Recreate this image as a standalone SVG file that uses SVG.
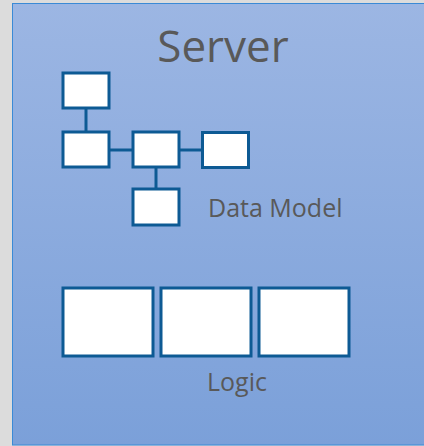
<svg xmlns="http://www.w3.org/2000/svg" width="424" height="446" viewBox="0 0 424 446">
<defs>
<linearGradient id="bg" x1="0" y1="0" x2="0" y2="1">
<stop offset="0" stop-color="#9cb6e3"/>
<stop offset="1" stop-color="#7ba0d9"/>
</linearGradient>
</defs>
<style>
.box{fill:#ffffff;stroke:#0d5a94;stroke-width:3}
.ln{stroke:#0d5a94;stroke-width:3;fill:none}
.t{font-family:"Open Sans",sans-serif;fill:#595959}
</style>
<rect x="0" y="0" width="424" height="446" fill="#dcdcdc"/>
<g id="server">
<rect x="12.5" y="3.5" width="420" height="441.5" fill="url(#bg)" stroke="#3a8ad6" stroke-width="1"/>
<text class="t" x="223" y="62" font-size="44" text-anchor="middle">Server</text>
</g>
<g id="connectors">
<line class="ln" x1="86" y1="108" x2="86" y2="132"/>
<line class="ln" x1="110" y1="150" x2="132" y2="150"/>
<line class="ln" x1="180" y1="150" x2="202" y2="150" stroke-width="2"/>
<line class="ln" x1="156" y1="167" x2="156" y2="189"/>
</g>
<g id="dm1"><rect class="box" x="63" y="73" width="46" height="35"/></g>
<g id="dm2"><rect class="box" x="63" y="132" width="46" height="35"/></g>
<g id="dm3"><rect class="box" x="133" y="132" width="46" height="35"/></g>
<g id="dm4"><rect class="box" x="202.5" y="132.5" width="46" height="35" stroke-width="2.5"/></g>
<g id="dm5"><rect class="box" x="133" y="189" width="46" height="36"/></g>
<g id="datamodel-label"><text class="t" x="208" y="217" font-size="25">Data Model</text></g>
<g id="logic1"><rect class="box" x="63" y="288" width="90" height="68"/></g>
<g id="logic2"><rect class="box" x="161" y="288" width="90" height="68"/></g>
<g id="logic3"><rect class="box" x="259" y="288" width="90" height="68" stroke-width="2.5"/></g>
<g id="logic-label"><text class="t" x="207" y="391" font-size="25">Logic</text></g>
</svg>
